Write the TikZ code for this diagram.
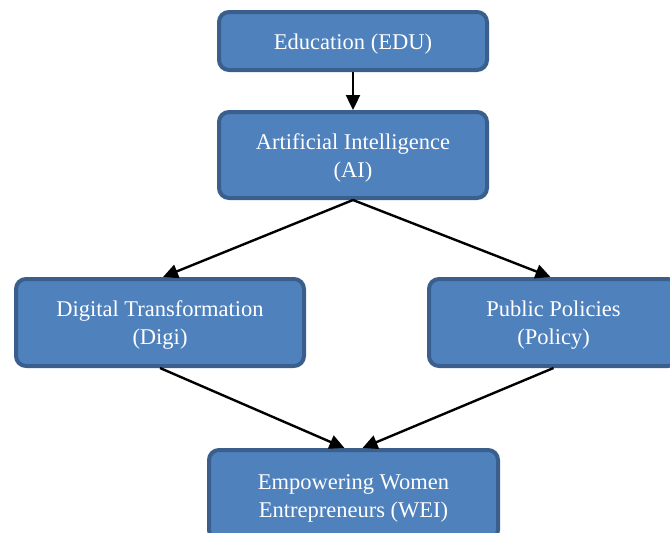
\documentclass[tikz,border=0pt]{standalone}
\usepackage{fontspec}
\setmainfont{Liberation Serif}
\usetikzlibrary{arrows.meta}
\definecolor{boxfill}{HTML}{4F81BD}
\definecolor{boxline}{HTML}{3A5F8C}
\tikzset{
  block/.style={draw=boxline, fill=boxfill, line width=4pt, rounded corners=10pt,
    inner sep=0pt},
  caption/.style={text=white, align=center, inner sep=0pt, yshift=-3pt,
    font=\fontsize{22.5}{28}\selectfont},
  link/.style={line width=2.4pt, -{Triangle[length=15pt,width=14pt]}}
}
\begin{document}
\begin{tikzpicture}[x=1pt,y=-1pt]
\useasboundingbox (0,0) rectangle (670,533);
\clip (0,0) rectangle (670,533);
% boxes
\node[block, minimum width=268pt, minimum height=58pt] (edu) at (353,41) {};
\node[block, minimum width=268pt, minimum height=86pt] (ai) at (353,155) {};
\node[block, minimum width=288pt, minimum height=87pt] (digi) at (160,322.5) {};
\node[block, minimum width=249pt, minimum height=87pt] (policy) at (553.5,322.5) {};
\node[block, minimum width=289pt, minimum height=90pt] (wei) at (353.5,495) {};
% labels
\node[caption] (edu-t) at (edu.center) {Education (EDU)};
\node[caption] (ai-t) at (ai.center) {Artificial Intelligence\\(AI)};
\node[caption] (digi-t) at (digi.center) {Digital Transformation\\(Digi)};
\node[caption] (policy-t) at (policy.center) {Public Policies\\(Policy)};
\node[caption] (wei-t) at (wei.center) {Empowering Women\\Entrepreneurs (WEI)};
% arrows
\draw[link] (edu.south) -- (ai.north);
\draw[link] (ai.south) -- ([xshift=3pt]digi.north);
\draw[link] (ai.south) -- ([xshift=-3pt]policy.north);
\draw[link] (digi.south) -- ([xshift=-9pt]wei.north);
\draw[link] (policy.south) -- ([xshift=9pt]wei.north);
\end{tikzpicture}
\end{document}
